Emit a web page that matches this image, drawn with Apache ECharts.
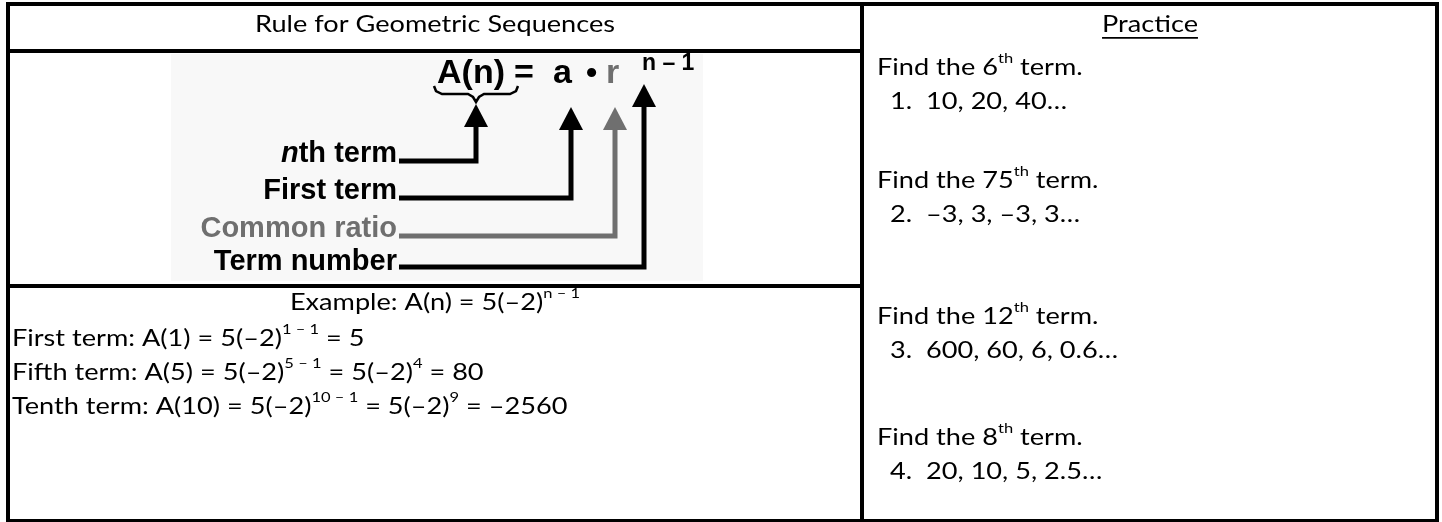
<!DOCTYPE html>
<html>
<head>
<meta charset="utf-8">
<script src="https://cdn.jsdelivr.net/npm/echarts@6/dist/echarts.min.js"></script>
<style>
  html, body { margin: 0; padding: 0; background: #fff; }
  #chart { width: 1442px; height: 522px; }
</style>
</head>
<body>
<div id="chart"></div>
<script>
// texts of the worksheet
const headers = ['Rule for Geometric Sequences', 'Practice'];
const practiceTerms = ['6', '75', '12', '8'];
const practiceSeqs = ['10, 20, 40…', '–3, 3, –3, 3…', '600, 60, 6, 0.6…', '20, 10, 5, 2.5…'];
const exampleBase = '5(–2)';
const exampleExp = 'n – 1';
const termNames = ['First', 'Fifth', 'Tenth'];
const termIndex = ['1', '5', '10'];
const termPower = ['', '4', '9'];
const termValue = ['5', '80', '–2560'];
const ruleLabels = ['th term', 'First term', 'Common ratio', 'Term number'];

const BODY = 'Lato, "Liberation Sans", sans-serif';
const ARIAL = '"Liberation Sans", Arial, sans-serif';
const GREY = '#6f6f6f';
const SX = 1.18; // Lato is wider-looking than the original font, stretch a bit

const chart = echarts.init(document.getElementById('chart'));

function bar(x, y, w, h, color) {
  return { type: 'rect', shape: { x: x, y: y, width: w, height: h }, style: { fill: color || '#000' }, silent: true };
}

function measure(text, font) {
  const ctx = document.createElement('canvas').getContext('2d');
  ctx.font = font;
  return ctx.measureText(text).width;
}

// superscripts: padding at the bottom lifts the small text up
const rich = {
  t: { fontFamily: BODY, fontSize: 23, lineHeight: 26, fill: '#000' },
  s: { fontFamily: BODY, fontSize: 14, lineHeight: 14, fill: '#000', padding: [0, 0, 19, 0] }
};

function richText(str, x, y, align) {
  return {
    type: 'text', silent: true, x: x, y: y, scaleX: SX,
    style: { text: str, x: 0, y: 0, rich: rich, align: align || 'left', verticalAlign: 'middle' }
  };
}

const els = [];

// table borders
els.push(bar(6, 2, 1433, 4));        // top
els.push(bar(6, 2, 4, 520));         // left
els.push(bar(1435, 2, 4, 520));      // right
els.push(bar(6, 519, 1433, 3));      // bottom
els.push(bar(860, 2, 4, 520));       // divider
els.push(bar(6, 49, 858, 4));        // header line, left column
els.push(bar(6, 284, 858, 4));       // middle line, left column

// headers
els.push(richText('{t|' + headers[0] + '}', 435, 25, 'center'));
els.push(richText('{t|' + headers[1] + '}', 1150, 25, 'center'));
const pw = measure(headers[1], '23px ' + BODY) * SX;
els.push(bar(1150 - pw / 2, 37, pw, 1.8));

// practice column
const findY = [68, 181, 317, 438];
practiceTerms.forEach(function (n, i) {
  els.push(richText('{t|Find the ' + n + '}{s|th}{t| term.}', 877, findY[i]));
  els.push(richText('{t|' + (i + 1) + '.  ' + practiceSeqs[i] + '}', 890, findY[i] + 34));
});

// example rows
els.push(richText('{t|Example: A(n) = ' + exampleBase + '}{s|' + exampleExp + '}', 435, 303, 'center'));
const rowY = [339, 373, 407];
termNames.forEach(function (name, i) {
  let s = '{t|' + name + ' term: A(' + termIndex[i] + ') = ' + exampleBase + '}{s|' + termIndex[i] + ' – 1}';
  if (termPower[i]) s += '{t| = ' + exampleBase + '}{s|' + termPower[i] + '}';
  s += '{t| = ' + termValue[i] + '}';
  els.push(richText(s, 12, rowY[i]));
});

// formula picture
els.push(bar(171, 54, 532, 227, '#f8f8f8'));
const big = 'bold 34px ' + ARIAL;
function word(t, x, y, font, color, align) {
  return { type: 'text', silent: true, style: { text: t, x: x, y: y, font: font, fill: color || '#000', align: align || 'left', verticalAlign: 'middle' } };
}
els.push(word('A(n)', 437, 74, big));
els.push(word('=', 514, 74, big));
els.push(word('a', 553, 74, big));
els.push(word('•', 586, 74, 'bold 32px ' + ARIAL));
els.push(word('r', 606, 74, big, GREY));
els.push(word('n – 1', 642, 64, 'bold 23px ' + ARIAL));

// brace under A(n)
els.push({
  type: 'polyline', silent: true,
  shape: {
    points: [[434, 86], [436, 91], [442, 94], [468, 94], [473, 97], [476, 102],
             [479, 97], [484, 94], [510, 94], [516, 91], [518, 86]]
  },
  style: { stroke: '#000', lineWidth: 2.5, fill: 'none' }
});

// labels with arrows
const lab = 'bold 29px ' + ARIAL;
const labelY = [154, 191, 229, 262];
const lineY = [161, 198, 236, 267];
const arrowX = [476, 571, 615, 644];
const headTop = [104, 107, 107, 84];
const colors = ['#000', '#000', GREY, '#000'];
ruleLabels.forEach(function (t, i) {
  if (i === 0) {
    els.push({
      type: 'text', silent: true,
      style: {
        text: '{i|n}{b|' + t + '}', x: 397, y: labelY[i], align: 'right', verticalAlign: 'middle',
        rich: {
          i: { fontFamily: ARIAL, fontSize: 29, fontWeight: 'bold', fontStyle: 'italic', fill: '#000' },
          b: { fontFamily: ARIAL, fontSize: 29, fontWeight: 'bold', fill: '#000' }
        }
      }
    });
  } else {
    els.push(word(t, 397, labelY[i], lab, colors[i], 'right'));
  }
  els.push({
    type: 'polyline', silent: true,
    shape: { points: [[399, lineY[i]], [arrowX[i], lineY[i]], [arrowX[i], headTop[i] + 20]] },
    style: { stroke: colors[i], lineWidth: 5, fill: 'none' }
  });
  els.push({
    type: 'polygon', silent: true,
    shape: { points: [[arrowX[i] - 12, headTop[i] + 23], [arrowX[i], headTop[i]], [arrowX[i] + 12, headTop[i] + 23]] },
    style: { fill: colors[i] }
  });
});

chart.setOption({
  backgroundColor: '#fff',
  animation: false,
  graphic: { elements: els }
});
</script>
</body>
</html>
